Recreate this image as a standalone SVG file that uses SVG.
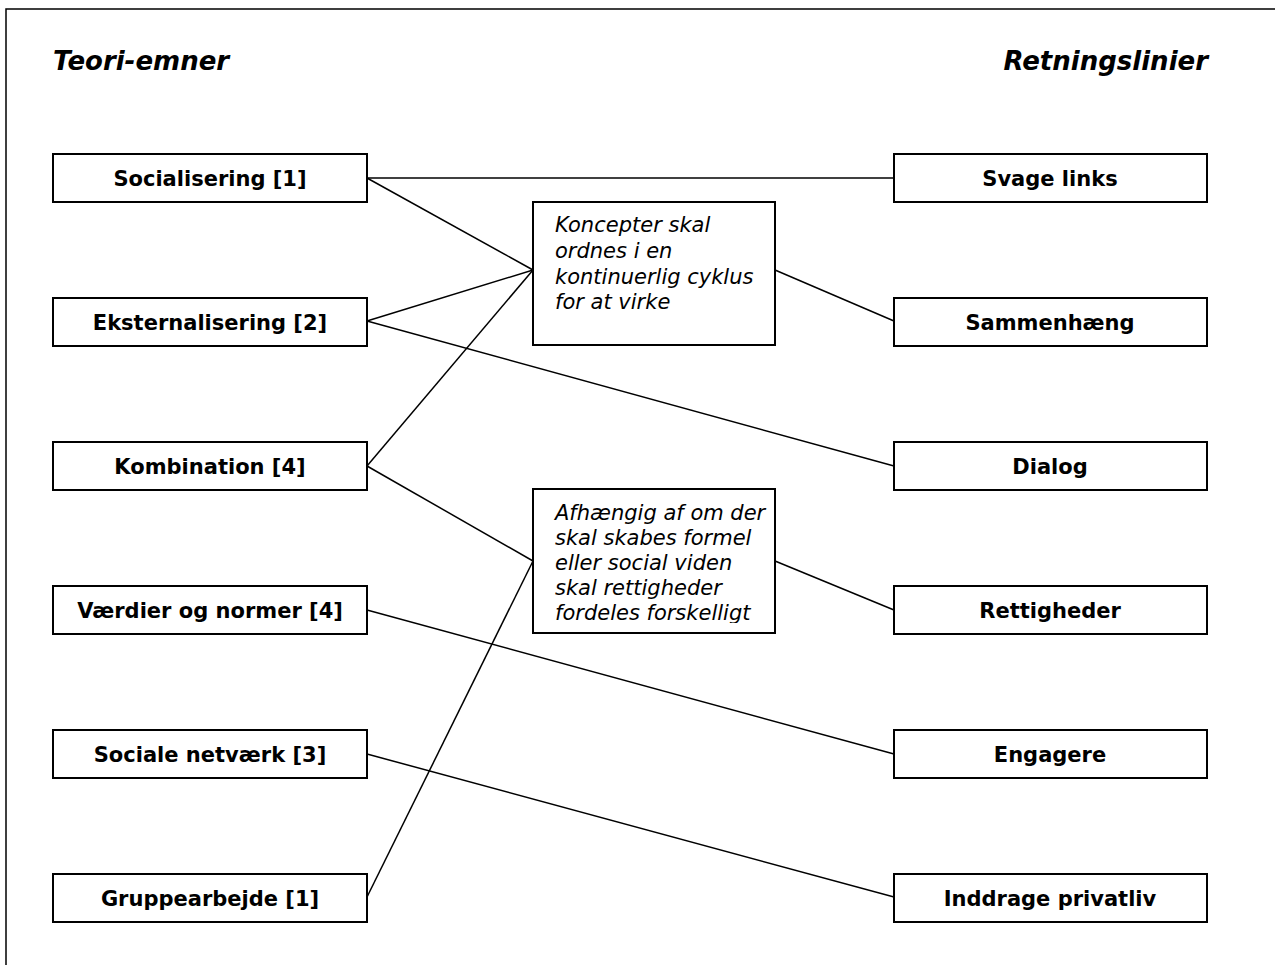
<svg xmlns="http://www.w3.org/2000/svg" width="1275" height="965" viewBox="0 0 1275 965">
<style>
.box{fill:#fff;stroke:#000;stroke-width:2}
.lbl{font-family:"DejaVu Sans","Verdana",sans-serif;font-weight:bold;font-size:21px;text-anchor:middle;fill:#000}
.ttl{font-family:"DejaVu Sans","Verdana",sans-serif;font-weight:bold;font-style:italic;font-size:26px;fill:#000}
.note{font-family:"DejaVu Sans","Verdana",sans-serif;font-style:italic;font-size:21px;fill:#000}
.con line{stroke:#000;stroke-width:1.5}
</style>
<defs>
<clipPath id="clip2"><rect x="534" y="490" width="240" height="133"/></clipPath>
</defs>
<rect width="1275" height="965" fill="#fff"/>
<rect x="6" y="9" width="1280" height="970" fill="none" stroke="#000" stroke-width="1.5"/>
<text class="ttl" x="53" y="70">Teori-emner</text>
<text class="ttl" x="1208" y="70" text-anchor="end">Retningslinier</text>
<g id="connectors" class="con">
<line x1="367" y1="178" x2="894" y2="178"/>
<line x1="367" y1="178" x2="533" y2="270"/>
<line x1="367" y1="321" x2="533" y2="270"/>
<line x1="367" y1="466" x2="533" y2="270"/>
<line x1="367" y1="321" x2="894" y2="466"/>
<line x1="775" y1="270" x2="894" y2="321"/>
<line x1="367" y1="466" x2="533" y2="561"/>
<line x1="367" y1="897" x2="533" y2="561"/>
<line x1="775" y1="561" x2="894" y2="610"/>
<line x1="367" y1="610" x2="894" y2="754"/>
<line x1="367" y1="754" x2="894" y2="897"/>
</g>
<g id="n-socialisering"><rect class="box" x="53" y="154" width="314" height="48"/><text class="lbl" x="210" y="186">Socialisering [1]</text></g>
<g id="n-eksternalisering"><rect class="box" x="53" y="298" width="314" height="48"/><text class="lbl" x="210" y="330">Eksternalisering [2]</text></g>
<g id="n-kombination"><rect class="box" x="53" y="442" width="314" height="48"/><text class="lbl" x="210" y="474">Kombination [4]</text></g>
<g id="n-vaerdier"><rect class="box" x="53" y="586" width="314" height="48"/><text class="lbl" x="210" y="618">Værdier og normer [4]</text></g>
<g id="n-sociale"><rect class="box" x="53" y="730" width="314" height="48"/><text class="lbl" x="210" y="762">Sociale netværk [3]</text></g>
<g id="n-gruppe"><rect class="box" x="53" y="874" width="314" height="48"/><text class="lbl" x="210" y="906">Gruppearbejde [1]</text></g>
<g id="n-svage"><rect class="box" x="894" y="154" width="313" height="48"/><text class="lbl" x="1050" y="186">Svage links</text></g>
<g id="n-sammenhaeng"><rect class="box" x="894" y="298" width="313" height="48"/><text class="lbl" x="1050" y="330">Sammenhæng</text></g>
<g id="n-dialog"><rect class="box" x="894" y="442" width="313" height="48"/><text class="lbl" x="1050" y="474">Dialog</text></g>
<g id="n-rettigheder"><rect class="box" x="894" y="586" width="313" height="48"/><text class="lbl" x="1050" y="618">Rettigheder</text></g>
<g id="n-engagere"><rect class="box" x="894" y="730" width="313" height="48"/><text class="lbl" x="1050" y="762">Engagere</text></g>
<g id="n-inddrage"><rect class="box" x="894" y="874" width="313" height="48"/><text class="lbl" x="1050" y="906">Inddrage privatliv</text></g>
<g id="n-note1"><rect class="box" x="533" y="202" width="242" height="143"/>
<text class="note"><tspan x="555" y="232">Koncepter skal</tspan><tspan x="555" y="258">ordnes i en</tspan><tspan x="555" y="284">kontinuerlig cyklus</tspan><tspan x="555" y="309">for at virke</tspan></text></g>
<g id="n-note2"><rect class="box" x="533" y="489" width="242" height="144"/>
<text class="note" clip-path="url(#clip2)"><tspan x="555" y="520">Afhængig af om der</tspan><tspan x="555" y="545">skal skabes formel</tspan><tspan x="555" y="570">eller social viden</tspan><tspan x="555" y="595">skal rettigheder</tspan><tspan x="555" y="620">fordeles forskelligt</tspan></text></g>
</svg>
